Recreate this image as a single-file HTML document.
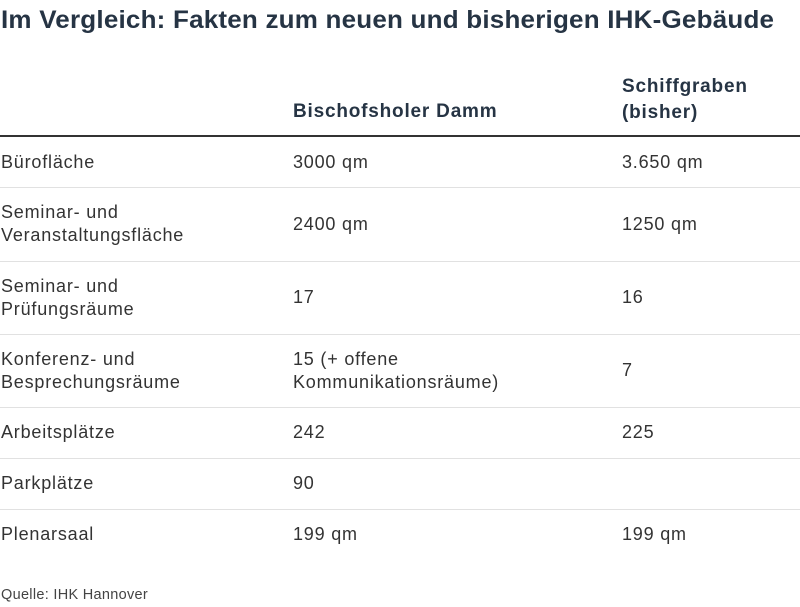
<!DOCTYPE html>
<html><head><meta charset="utf-8"><style>
body{margin:0;width:800px;height:604px;background:#fff;position:relative;overflow:hidden;font-family:"Liberation Sans",sans-serif;color:#333;}
.t{position:absolute;white-space:nowrap;font-size:18px;line-height:23px;letter-spacing:0.8px;}
.h{font-weight:bold;color:#263444;font-size:19px;letter-spacing:0.8px;}
.ln{position:absolute;left:0;width:800px;height:1px;background:#e1e1e1;}
#title{position:absolute;left:1px;top:6px;font-size:25px;font-weight:bold;color:#263444;white-space:nowrap;transform-origin:0 0;transform:scaleX(1.04);letter-spacing:0.2px;}
</style></head><body>
<div id="title">Im Vergleich: Fakten zum neuen und bisherigen IHK-Gebäude</div>
<div class="t h" style="left:293px;top:100px">Bischofsholer Damm</div>
<div class="t h" style="left:622px;top:74px;line-height:26px">Schiffgraben<br>(bisher)</div>
<div style="position:absolute;left:0;top:135px;width:800px;height:2px;background:#333"></div>
<div id="rows"></div>
<div class="t" style="left:1px;top:584px;font-size:14.5px;color:#444;letter-spacing:0.3px">Quelle: IHK Hannover</div>
<script>
const labels=["Bürofläche","Seminar- und<br>Veranstaltungsfläche","Seminar- und<br>Prüfungsräume","Konferenz- und<br>Besprechungsräume","Arbeitsplätze","Parkplätze","Plenarsaal"];
const newVals=["3000 qm","2400 qm","17","15 (+ offene<br>Kommunikationsräume)","242","90","199 qm"];
const oldVals=["3.650 qm","1250 qm","16","7","225","","199 qm"];
const tops=[137,187,261,334,407,458,509];
const bottoms=[187,261,334,407,458,509,560];
const c=document.getElementById('rows');
labels.forEach((l,i)=>{
 const mid=(tops[i]+bottoms[i])/2;
 [[1,l,'label'],[293,newVals[i],'new'],[622,oldVals[i],'old']].forEach(([x,txt,k])=>{
  const d=document.createElement('div');d.className='t';
  
  
  d.innerHTML=txt;const lines=txt.split('<br>').length;
  d.style.left=x+'px';d.style.top=(mid-lines*23/2)+'px';c.appendChild(d);
 });
 if(i<labels.length-1){const ln=document.createElement('div');ln.className='ln';
  
  
  ln.style.top=bottoms[i]+'px';c.appendChild(ln);}
});
</script>
</body></html>
